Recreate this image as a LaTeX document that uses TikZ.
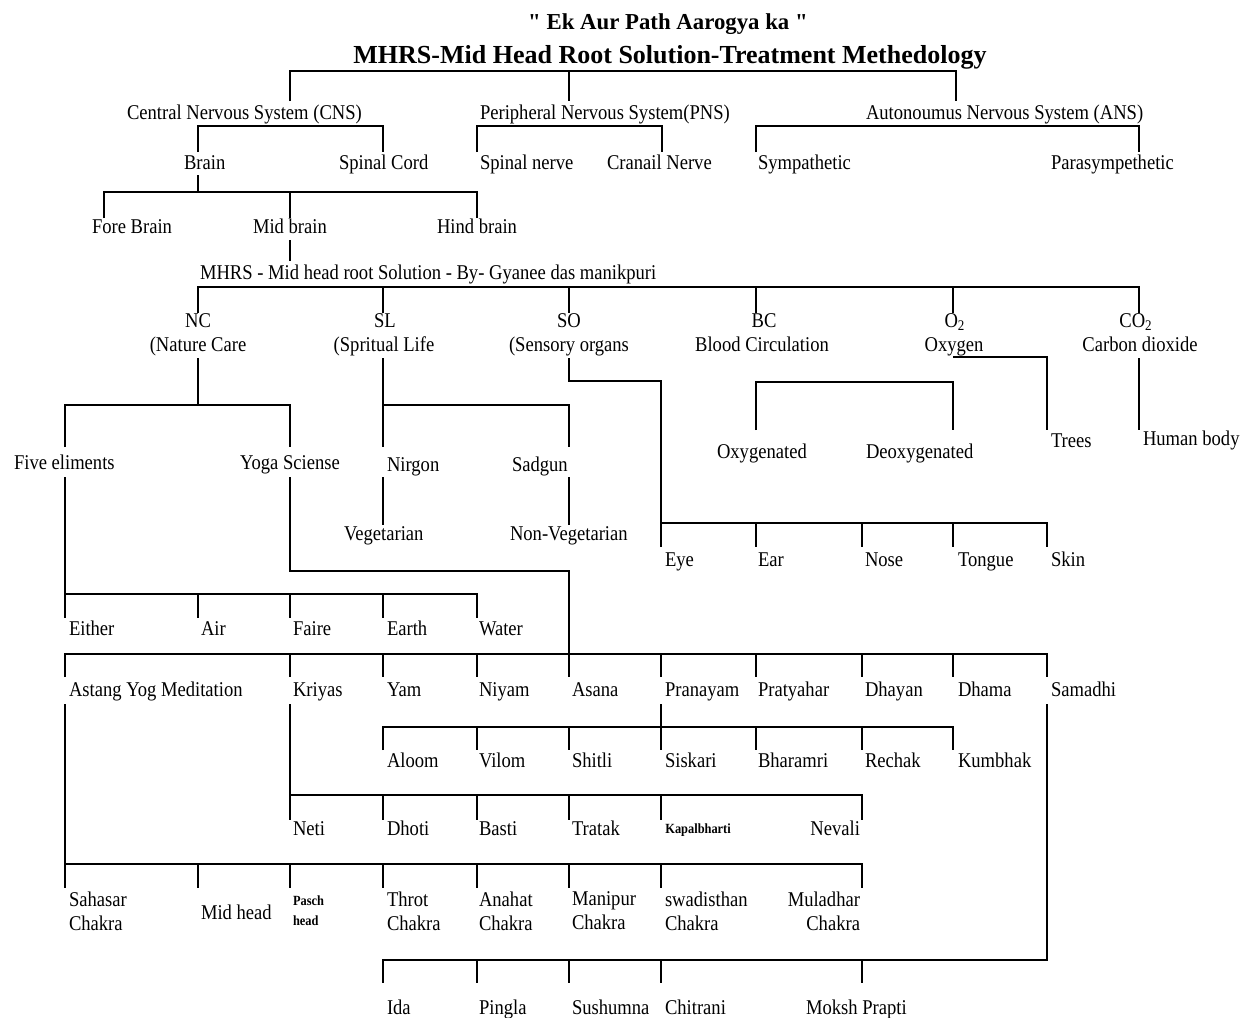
\documentclass[tikz,border=0pt]{standalone}
\usepackage{fontspec}
\setmainfont{Liberation Serif}[FakeStretch=0.885]
\newfontfamily\titlefont{Liberation Serif}
\begin{document}
\begin{tikzpicture}[x=0.5pt,y=-0.5pt,
  lbl/.style={inner sep=0pt, outer sep=0pt, font=\fontsize{10.5}{12}\selectfont, anchor=base west},
  lblc/.style={lbl, anchor=base},
  two/.style={lbl, align=left, anchor=north west},
  twor/.style={lbl, align=right, anchor=north east},
  sm/.style={inner sep=0pt, outer sep=0pt, font=\fontsize{7}{10}\selectfont\bfseries, align=left, anchor=north west},
  ttlA/.style={inner sep=0pt, font=\titlefont\fontsize{11.4}{13}\selectfont\bfseries, anchor=base},
  ttlB/.style={inner sep=0pt, font=\titlefont\fontsize{13}{15}\selectfont\bfseries, anchor=base},
  ln/.style={line width=1pt, draw=black}]
\useasboundingbox[fill=white] (0,0) rectangle (1245,1017);

% titles
\node[ttlA] (t1) at (668,29) {" Ek Aur Path Aarogya ka "};
\node[ttlB] (t2) at (670,63) {MHRS-Mid Head Root Solution-Treatment Methedology};

% level 1
\node[lbl] (cns) at (127,119) {Central Nervous System (CNS)};
\node[lbl] (pns) at (480,119) {Peripheral Nervous System(PNS)};
\node[lbl] (ans) at (866,119) {Autonoumus Nervous System (ANS)};

% level 2
\node[lbl] (brain) at (184,169) {Brain};
\node[lbl] (spcord) at (339,169) {Spinal Cord};
\node[lbl] (spnerve) at (480,169) {Spinal nerve};
\node[lbl] (cranial) at (607,169) {Cranail Nerve};
\node[lbl] (symp) at (758,169) {Sympathetic};
\node[lbl] (para) at (1051,169) {Parasympethetic};

% level 3
\node[lbl] (fore) at (92,233) {Fore Brain};
\node[lbl] (midb) at (253,233) {Mid brain};
\node[lbl] (hind) at (437,233) {Hind brain};

\node[lbl] (mhrs) at (200,279) {MHRS - Mid head root Solution - By- Gyanee das manikpuri};

% six branches
\node[lblc] (nc) at (198,327) {NC};
\node[lblc] (ncl) at (198,351) {(Nature Care};
\node[lblc] (sl) at (385,327) {SL};
\node[lblc] (sll) at (384,351) {(Spritual Life};
\node[lblc] (so) at (569,327) {SO};
\node[lblc] (sol) at (569,351) {(Sensory organs};
\node[lblc] (bc) at (764,327) {BC};
\node[lblc] (bcl) at (762,351) {Blood Circulation};
\node[lblc] (o2) at (955,327) {O\textsubscript{2}};
\node[lblc] (o2l) at (954,351) {Oxygen};
\node[lblc] (co2) at (1136,327) {CO\textsubscript{2}};
\node[lblc] (co2l) at (1140,351) {Carbon dioxide};

\node[lbl] (five) at (14,469) {Five eliments};
\node[lbl] (yoga) at (240,469) {Yoga Sciense};
\node[lbl] (nirgon) at (387,471) {Nirgon};
\node[lbl] (sadgun) at (512,471) {Sadgun};
\node[lbl] (veg) at (344,540) {Vegetarian};
\node[lbl] (nonveg) at (510,540) {Non-Vegetarian};

\node[lbl] (oxy) at (717,458) {Oxygenated};
\node[lbl] (deoxy) at (866,458) {Deoxygenated};
\node[lbl] (trees) at (1051,447) {Trees};
\node[lbl] (human) at (1143,445) {Human body};

\node[lbl] (eye) at (665,566) {Eye};
\node[lbl] (ear) at (758,566) {Ear};
\node[lbl] (nose) at (865,566) {Nose};
\node[lbl] (tongue) at (958,566) {Tongue};
\node[lbl] (skin) at (1051,566) {Skin};

\node[lbl] (either) at (69,635) {Either};
\node[lbl] (air) at (201,635) {Air};
\node[lbl] (faire) at (293,635) {Faire};
\node[lbl] (earth) at (387,635) {Earth};
\node[lbl] (water) at (479,635) {Water};

\node[lbl] (astang) at (69,696) {Astang Yog Meditation};
\node[lbl] (kriyas) at (293,696) {Kriyas};
\node[lbl] (yam) at (387,696) {Yam};
\node[lbl] (niyam) at (479,696) {Niyam};
\node[lbl] (asana) at (572,696) {Asana};
\node[lbl] (prana) at (665,696) {Pranayam};
\node[lbl] (pratya) at (758,696) {Pratyahar};
\node[lbl] (dhayan) at (865,696) {Dhayan};
\node[lbl] (dhama) at (958,696) {Dhama};
\node[lbl] (samadhi) at (1051,696) {Samadhi};

\node[lbl] (aloom) at (387,767) {Aloom};
\node[lbl] (vilom) at (479,767) {Vilom};
\node[lbl] (shitli) at (572,767) {Shitli};
\node[lbl] (siskari) at (665,767) {Siskari};
\node[lbl] (bharamri) at (758,767) {Bharamri};
\node[lbl] (rechak) at (865,767) {Rechak};
\node[lbl] (kumbhak) at (958,767) {Kumbhak};

\node[lbl] (neti) at (293,835) {Neti};
\node[lbl] (dhoti) at (387,835) {Dhoti};
\node[lbl] (basti) at (479,835) {Basti};
\node[lbl] (tratak) at (572,835) {Tratak};
\node[inner sep=0pt, font=\fontsize{7}{10}\selectfont\bfseries, anchor=base west] (kapal) at (665,833) {Kapalbharti};
\node[lbl, anchor=base east] (nevali) at (860,835) {Nevali};

\node[two] (sahasar) at (69,892) {Sahasar\\Chakra};
\node[lbl] (midhead) at (201,919) {Mid head};
\node[sm] (pasch) at (293,896) {Pasch\\head};
\node[two] (throt) at (387,892) {Throt\\Chakra};
\node[two] (anahat) at (479,892) {Anahat\\Chakra};
\node[two] (manipur) at (572,892) {Manipur\\Chakra};
\node[two] (swadi) at (665,892) {swadisthan\\Chakra};
\node[twor] (mula) at (860,892) {Muladhar\\Chakra};

\node[lbl] (ida) at (387,1014) {Ida};
\node[lbl] (pingla) at (479,1014) {Pingla};
\node[lbl] (sushumna) at (572,1014) {Sushumna};
\node[lbl] (chitrani) at (665,1014) {Chitrani};
\node[lbl] (moksh) at (806,1014) {Moksh Prapti};

% ---------- connectors ----------
\draw[ln] (290,101) -- (290,71) -- (956,71) -- (956,101);
\draw[ln] (569,71) -- (569,101);
\draw[ln] (198,152) -- (198,126) -- (383,126) -- (383,152);
\draw[ln] (477,152) -- (477,126) -- (662,126) -- (662,152);
\draw[ln] (756,152) -- (756,126) -- (1139,126) -- (1139,152);
\draw[ln] (198,175) -- (198,192);
\draw[ln] (104,218) -- (104,192) -- (477,192) -- (477,218);
\draw[ln] (290,192) -- (290,218);
\draw[ln] (290,240) -- (290,261);
\draw[ln] (198,313) -- (198,287) -- (1139,287) -- (1139,313);
\foreach \x in {383,569,756,953} \draw[ln] (\x,287) -- (\x,313);
% NC
\draw[ln] (198,358) -- (198,405);
\draw[ln] (65,447) -- (65,405) -- (290,405) -- (290,447);
% SL
\draw[ln] (383,358) -- (383,447);
\draw[ln] (383,405) -- (569,405) -- (569,447);
\draw[ln] (383,477) -- (383,525);
\draw[ln] (569,477) -- (569,525);
% SO
\draw[ln] (569,358) -- (569,381) -- (661,381) -- (661,547);
\draw[ln] (661,523) -- (1047,523) -- (1047,547);
\foreach \x in {756,862,953} \draw[ln] (\x,523) -- (\x,547);
% BC
\draw[ln] (756,430) -- (756,382) -- (953,382) -- (953,430);
% O2
\draw[ln] (953,357) -- (1047,357) -- (1047,430);
% CO2
\draw[ln] (1139,358) -- (1139,430);
% five elements
\draw[ln] (65,477) -- (65,618);
\draw[ln] (65,594) -- (477,594) -- (477,618);
\foreach \x in {198,290,383} \draw[ln] (\x,594) -- (\x,618);
% yoga science
\draw[ln] (290,477) -- (290,571) -- (569,571) -- (569,677);
\draw[ln] (65,677) -- (65,654) -- (1047,654) -- (1047,677);
\foreach \x in {290,383,477,661,756,862,953} \draw[ln] (\x,654) -- (\x,677);
% pranayam
\draw[ln] (661,704) -- (661,750);
\draw[ln] (383,750) -- (383,727) -- (953,727) -- (953,750);
\foreach \x in {477,569,756,862} \draw[ln] (\x,727) -- (\x,750);
% kriyas
\draw[ln] (290,704) -- (290,820);
\draw[ln] (290,795) -- (862,795) -- (862,820);
\foreach \x in {383,477,569,661} \draw[ln] (\x,795) -- (\x,820);
% astang
\draw[ln] (65,704) -- (65,888);
\draw[ln] (65,864) -- (862,864) -- (862,888);
\foreach \x in {198,290,383,477,569,661} \draw[ln] (\x,864) -- (\x,888);
% samadhi
\draw[ln] (1047,704) -- (1047,960) -- (383,960) -- (383,983);
\foreach \x in {477,569,661,862} \draw[ln] (\x,960) -- (\x,983);
\end{tikzpicture}
\end{document}
